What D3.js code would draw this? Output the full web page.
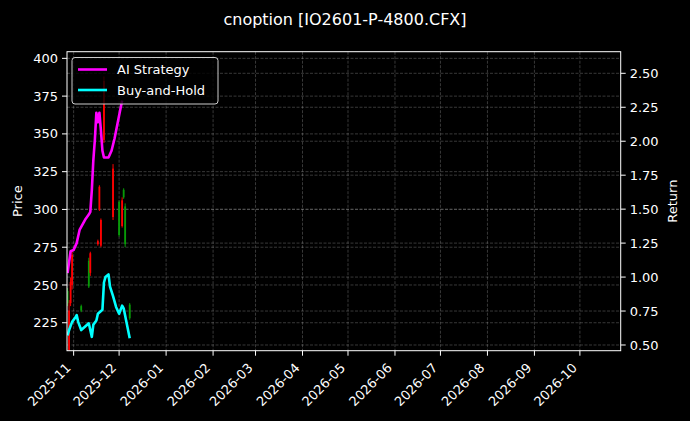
<!DOCTYPE html>
<html><head><meta charset="utf-8">
<script src="https://cdn.jsdelivr.net/npm/d3@7"></script>
<style>
body{margin:0;background:#000;}
svg{display:block;font-family:"DejaVu Sans",sans-serif;}
</style>
</head><body>
<svg id="chart" width="690" height="421"></svg>
<script>
// ---------------- data ----------------
const chartTitle = "cnoption [IO2601-P-4800.CFX]";
const candleDates = ["2025-10-28","2025-10-29","2025-10-30","2025-10-31","2025-11-06","2025-11-11","2025-11-12","2025-11-17","2025-11-18","2025-11-19","2025-11-21","2025-11-27","2025-12-01","2025-12-03","2025-12-04","2025-12-05","2025-12-08"];
const opens  = [238, 233, 252, 270, 233, 249, 271, 279, 315, 293, 385, 327, 283, 306, 308, 277, 228];
const highs  = [248, 240, 255, 273, 237, 268, 272, 280, 316, 294, 388, 330, 306, 308, 314, 304, 238];
const lows   = [236, 206.5, 236, 247, 232, 248, 256, 276, 299, 275, 344, 293, 282, 288, 307, 275, 227];
const closes = [246, 207, 238, 250, 236, 266, 258, 277, 300, 276, 346, 295, 305, 289, 313, 302, 237];

const aiDates = ["2025-10-28","2025-10-29","2025-10-30","2025-11-01","2025-11-03","2025-11-04","2025-11-05","2025-11-07","2025-11-09","2025-11-11","2025-11-12","2025-11-13","2025-11-14","2025-11-15","2025-11-16","2025-11-17","2025-11-18","2025-11-19","2025-11-20","2025-11-21","2025-11-24","2025-11-26","2025-11-28","2025-12-01","2025-12-03"];
const aiReturns = [1.03, 1.11, 1.19, 1.20, 1.25, 1.30, 1.35, 1.39, 1.43, 1.46, 1.48, 1.64, 1.86, 2.01, 2.21, 2.14, 2.21, 2.08, 1.93, 1.88, 1.88, 1.93, 2.02, 2.19, 2.30];

const bhDates = ["2025-10-28","2025-10-29","2025-10-31","2025-11-02","2025-11-03","2025-11-04","2025-11-06","2025-11-09","2025-11-11","2025-11-12","2025-11-13","2025-11-14","2025-11-16","2025-11-17","2025-11-20","2025-11-21","2025-11-22","2025-11-24","2025-11-25","2025-11-27","2025-11-29","2025-12-01","2025-12-03","2025-12-04","2025-12-06","2025-12-08"];
const bhReturns = [0.57, 0.61, 0.67, 0.70, 0.72, 0.67, 0.61, 0.64, 0.66, 0.61, 0.56, 0.65, 0.68, 0.73, 0.76, 0.96, 1.00, 1.02, 0.93, 0.86, 0.78, 0.73, 0.79, 0.77, 0.66, 0.55];

const monthTicks = ["2025-11","2025-12","2026-01","2026-02","2026-03","2026-04","2026-05","2026-06","2026-07","2026-08","2026-09","2026-10"];
const priceTicks = [225, 250, 275, 300, 325, 350, 375, 400];
const returnTicks = [0.50, 0.75, 1.00, 1.25, 1.50, 1.75, 2.00, 2.25, 2.50];
const seriesNames = ["AI Strategy", "Buy-and-Hold"];
const seriesColors = ["#ff00ff", "#00ffff"];

// ---------------- layout ----------------
const L = 67, R = 620.7, T = 51.7, B = 350.7;
const parseDay = d3.timeParse("%Y-%m-%d");
const parseMonth = d3.timeParse("%Y-%m");

const x = d3.scaleTime()
  .domain([new Date(2025, 9, 27, 15), new Date(2026, 9, 27, 22)])
  .range([L, R]);
const yP = d3.scaleLinear().domain([206.5, 404.4]).range([B, T]);
const yR = d3.scaleLinear().domain([0.458, 2.659]).range([B, T]);

const svg = d3.select("#chart");
svg.append("rect").attr("width", 690).attr("height", 421).attr("fill", "#000");

const gridColor = "rgba(255,255,255,0.28)";
const grid = svg.append("g");
grid.selectAll(".vg").data(monthTicks).join("line")
  .attr("x1", d => x(parseMonth(d))).attr("x2", d => x(parseMonth(d)))
  .attr("y1", T).attr("y2", B)
  .attr("stroke", gridColor).attr("stroke-width", 0.8).attr("stroke-dasharray", "3,1.5");
grid.selectAll(".hg").data(priceTicks).join("line")
  .attr("x1", L).attr("x2", R)
  .attr("y1", d => yP(d)).attr("y2", d => yP(d))
  .attr("stroke", gridColor).attr("stroke-width", 0.8).attr("stroke-dasharray", "3,1.5");
grid.selectAll(".hr").data(returnTicks).join("line")
  .attr("x1", L).attr("x2", R)
  .attr("y1", d => yR(d)).attr("y2", d => yR(d))
  .attr("stroke", gridColor).attr("stroke-width", 0.8).attr("stroke-dasharray", "3,1.5");

svg.append("clipPath").attr("id", "clip").append("rect")
  .attr("x", L).attr("y", T).attr("width", R - L).attr("height", B - T);
const plot = svg.append("g").attr("clip-path", "url(#clip)");

// candles
const upColor = "#089a08", downColor = "#ff0000";
const candles = candleDates.map((d, i) => ({date: parseDay(d), o: opens[i], h: highs[i], l: lows[i], c: closes[i]}));
const cg = plot.append("g");
cg.selectAll(".wick").data(candles).join("line")
  .attr("x1", d => x(d.date)).attr("x2", d => x(d.date))
  .attr("y1", d => yP(d.h)).attr("y2", d => yP(d.l))
  .attr("stroke", d => d.c >= d.o ? upColor : downColor).attr("stroke-width", 1);
cg.selectAll(".body").data(candles).join("rect")
  .attr("x", d => x(d.date) - 0.9).attr("width", 1.8)
  .attr("y", d => yP(Math.max(d.o, d.c)))
  .attr("height", d => Math.max(0.8, Math.abs(yP(d.o) - yP(d.c))))
  .attr("fill", d => d.c >= d.o ? upColor : downColor);

// lines (return axis)
const line = d3.line().x(d => x(d.date)).y(d => yR(d.v));
const aiData = aiDates.map((d, i) => ({date: parseDay(d), v: aiReturns[i]}));
const bhData = bhDates.map((d, i) => ({date: parseDay(d), v: bhReturns[i]}));
plot.append("path").datum(aiData).attr("d", line)
  .attr("fill", "none").attr("stroke", seriesColors[0]).attr("stroke-width", 2.6).attr("stroke-linejoin", "round");
plot.append("path").datum(bhData).attr("d", line)
  .attr("fill", "none").attr("stroke", seriesColors[1]).attr("stroke-width", 2.6).attr("stroke-linejoin", "round");

// spines
svg.append("rect").attr("x", L).attr("y", T).attr("width", R - L).attr("height", B - T)
  .attr("fill", "none").attr("stroke", "#fff").attr("stroke-width", 1);

const fs = 13;
const leftAxis = svg.append("g");
leftAxis.selectAll("line").data(priceTicks).join("line")
  .attr("x1", L - 5).attr("x2", L).attr("y1", d => yP(d)).attr("y2", d => yP(d))
  .attr("stroke", "#fff").attr("stroke-width", 1);
leftAxis.selectAll("text").data(priceTicks).join("text")
  .attr("x", L - 9).attr("y", d => yP(d)).attr("dy", "0.35em")
  .attr("text-anchor", "end").attr("fill", "#fff").attr("font-size", fs)
  .text(d => d3.format("d")(d));
const rightAxis = svg.append("g");
rightAxis.selectAll("line").data(returnTicks).join("line")
  .attr("x1", R).attr("x2", R + 5).attr("y1", d => yR(d)).attr("y2", d => yR(d))
  .attr("stroke", "#fff").attr("stroke-width", 1);
rightAxis.selectAll("text").data(returnTicks).join("text")
  .attr("x", R + 9).attr("y", d => yR(d)).attr("dy", "0.35em")
  .attr("text-anchor", "start").attr("fill", "#fff").attr("font-size", fs)
  .text(d => d3.format(".2f")(d));
const bottomAxis = svg.append("g");
bottomAxis.selectAll("line").data(monthTicks).join("line")
  .attr("x1", d => x(parseMonth(d))).attr("x2", d => x(parseMonth(d)))
  .attr("y1", B).attr("y2", B + 5)
  .attr("stroke", "#fff").attr("stroke-width", 1);
bottomAxis.selectAll("text").data(monthTicks).join("text")
  .attr("transform", d => `translate(${x(parseMonth(d)) - 2},${B + 18}) rotate(-45)`)
  .attr("text-anchor", "end").attr("fill", "#fff").attr("font-size", fs)
  .text(d => d);

svg.append("text").attr("transform", `translate(22,${(T + B) / 2}) rotate(-90)`)
  .attr("text-anchor", "middle").attr("fill", "#fff").attr("font-size", fs).text("Price");
svg.append("text").attr("transform", `translate(677,${(T + B) / 2}) rotate(-90)`)
  .attr("text-anchor", "middle").attr("fill", "#fff").attr("font-size", fs).text("Return");

svg.append("text").attr("x", 345).attr("y", 25).attr("text-anchor", "middle")
  .attr("fill", "#fff").attr("font-size", 16).text(chartTitle);

const lg = svg.append("g");
lg.append("rect").attr("x", 72).attr("y", 57.5).attr("width", 146).attr("height", 46.5)
  .attr("rx", 3).attr("fill", "rgba(0,0,0,0.8)").attr("stroke", "#cccccc").attr("stroke-width", 1);
seriesNames.forEach((name, i) => {
  const yy = 69.5 + i * 20.5;
  lg.append("line").attr("x1", 78).attr("x2", 107).attr("y1", yy).attr("y2", yy)
    .attr("stroke", seriesColors[i]).attr("stroke-width", 2.6);
  lg.append("text").attr("x", 117).attr("y", yy).attr("dy", "0.35em")
    .attr("fill", "#fff").attr("font-size", fs).text(name);
});
</script>
</body></html>
